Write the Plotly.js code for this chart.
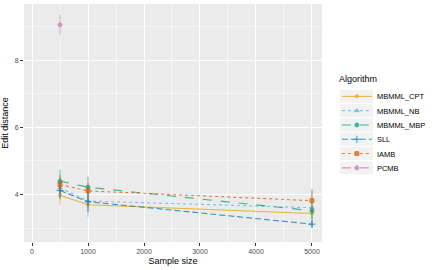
<!DOCTYPE html>
<html><head><meta charset="utf-8">
<script src="https://cdn.plot.ly/plotly-3.0.1.min.js"></script>
<style>body{margin:0;padding:0;background:#fff}#chart{width:437px;height:270px}</style>
</head><body><div id="chart"></div>
<script>
const sampleSizes = [500, 1000, 5000];
const algorithms = ["MBMML_CPT", "MBMML_NB", "MBMML_MBP", "SLL", "IAMB", "PCMB"];
const cptVals = [3.98, 3.70, 3.44];
const cptErr = [0.28, 0.25, 0.22];
const nbVals = [4.20, 3.81, 3.61];
const nbErr = [0.32, 0.48, 0.55];
const mbpVals = [4.40, 4.22, 3.52];
const mbpErr = [0.33, 0.32, 0.25];
const sllVals = [4.12, 3.79, 3.12];
const sllErr = [0.25, 0.30, 0.12];
const iambVals = [4.30, 4.11, 3.82];
const iambErr = [0.28, 0.25, 0.32];
const pcmbX = [500];
const pcmbVals = [9.05];
const pcmbErr = [0.30];

const colors = ["#E69F00", "#56B4E9", "#009E73", "#0072B2", "#D55E00", "#CC79A7"];
const dashes = ["solid", "dot", "dash", "6px,3px", "dot", "dashdot"];
const symbols = ["circle", "triangle-up", "circle", "cross-thin", "square", "circle"];
const msizes = [3, 4, 4, 5, 4, 4];

const series = [
  [sampleSizes, cptVals, cptErr],
  [sampleSizes, nbVals, nbErr],
  [sampleSizes, mbpVals, mbpErr],
  [sampleSizes, sllVals, sllErr],
  [sampleSizes, iambVals, iambErr],
  [pcmbX, pcmbVals, pcmbErr]
];

const traces = series.map((s, i) => ({
  type: "scatter",
  mode: "lines+markers",
  name: algorithms[i],
  x: s[0], y: s[1],
  error_y: {type: "data", array: s[2], visible: true, color: colors[i], thickness: 0.8, width: 0},
  line: {color: colors[i], dash: dashes[i], width: 1.1},
  marker: {color: colors[i], symbol: symbols[i], size: msizes[i], line: {color: colors[i], width: 1}},
  opacity: 0.75
}));

const layout = {
  width: 437, height: 270,
  margin: {l: 24, r: 115, t: 4, b: 28},
  paper_bgcolor: "#ffffff",
  plot_bgcolor: "#EBEBEB",
  font: {family: "Liberation Sans, Arial, sans-serif", size: 7, color: "#4D4D4D"},
  xaxis: {
    range: [-143, 5179],
    tickvals: [0, 1000, 2000, 3000, 4000, 5000],
    ticks: "outside", ticklen: 3, tickcolor: "#333333", tickwidth: 1,
    showgrid: true, gridcolor: "#FFFFFF", gridwidth: 1,
    minor: {tickvals: [500, 1500, 2500, 3500, 4500], showgrid: true, gridcolor: "#FFFFFF", gridwidth: 0.5, ticks: ""},
    zeroline: false, showline: false,
    tickfont: {size: 7, color: "#4D4D4D"},
    title: {text: "Sample size", font: {size: 9, color: "#000000"}, standoff: 3}
  },
  yaxis: {
    range: [2.59, 9.67],
    tickvals: [4, 6, 8],
    ticks: "outside", ticklen: 3, tickcolor: "#333333", tickwidth: 1,
    showgrid: true, gridcolor: "#FFFFFF", gridwidth: 1,
    minor: {tickvals: [3, 5, 7, 9], showgrid: true, gridcolor: "#FFFFFF", gridwidth: 0.5, ticks: ""},
    zeroline: false, showline: false,
    tickfont: {size: 7, color: "#4D4D4D"},
    title: {text: "Edit distance", font: {size: 9, color: "#000000"}, standoff: 6}
  },
  showlegend: true,
  legend: {
    x: 1.05, xanchor: "left", y: 0.722, yanchor: "top",
    bgcolor: "rgba(0,0,0,0)",
    font: {size: 7.5, color: "#000000"},
    title: {text: "Algorithm", font: {size: 9, color: "#000000"}},
    tracegroupgap: 0,
    itemwidth: 30
  }
};

Plotly.newPlot("chart", traces, layout, {displayModeBar: false, staticPlot: true}).then(gd => {
  const items = gd.querySelectorAll(".legend .traces");
  if (!items.length) return;
  const m = /translate\(([-\d.]+),\s*([-\d.]+)\)/.exec(items[0].getAttribute("transform") || "");
  if (!m) return;
  const x0 = parseFloat(m[1]), y0 = parseFloat(m[2]);
  const ns = "http://www.w3.org/2000/svg";
  items.forEach((g, i) => {
    g.setAttribute("transform", "translate(" + x0 + "," + (y0 + i * 14.3) + ")");
    const r = document.createElementNS(ns, "rect");
    r.setAttribute("x", 3); r.setAttribute("y", -6.5);
    r.setAttribute("width", 33); r.setAttribute("height", 13);
    r.setAttribute("fill", "#F2F2F2");
    g.insertBefore(r, g.firstChild);
  });
});
</script></body></html>
